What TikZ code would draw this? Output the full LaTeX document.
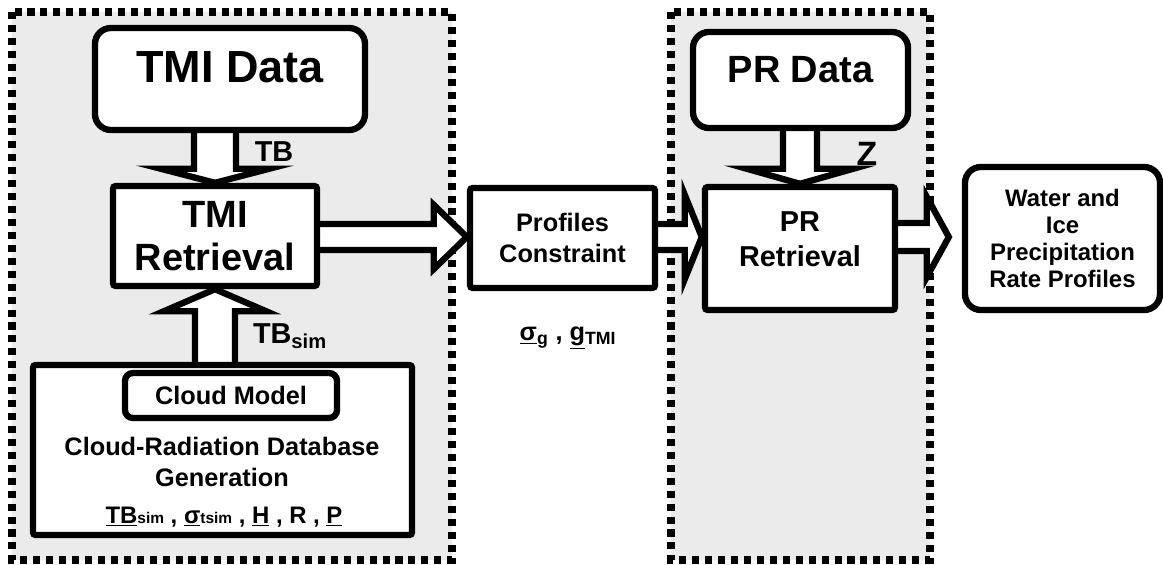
\documentclass[tikz,border=0pt]{standalone}
\usepackage{fontspec}
\setmainfont{Liberation Sans}
\usetikzlibrary{calc}
\pgfdeclarelayer{regions}
\pgfdeclarelayer{arrows}
\pgfsetlayers{regions,arrows,main}

\newcommand{\vblock}[5]{%
  \filldraw[blockarrow] ($(#1)-(#3,0)$) -- ($(#2)-(#3,#5)$) -- ($(#2)-(#4,#5)$) -- (#2)
    -- ($(#2)-(-#4,#5)$) -- ($(#2)-(-#3,#5)$) -- ($(#1)+(#3,0)$);}
\newcommand{\hblock}[5]{%
  \filldraw[blockarrow] ($(#1)-(0,#3)$) -- ($(#2)-(#5,#3)$) -- ($(#2)-(#5,#4)$) -- (#2)
    -- ($(#2)-(#5,-#4)$) -- ($(#2)-(#5,-#3)$) -- ($(#1)+(0,#3)$);}

\begin{document}
\begin{tikzpicture}[x=0.025cm,y=-0.025cm,
    region/.style={fill=black!8, draw=black, line width=5pt, dash pattern=on 5pt off 4.2pt},
    box/.style={draw=black, fill=white, line width=4.5pt, rounded corners=2pt, align=center, inner sep=0pt},
    roundbox/.style={box, rounded corners=0.4cm},
    blockarrow/.style={draw=black, fill=white, line width=4.5pt, line join=miter},
    bigfont/.style={font=\fontsize{32}{36}\selectfont\bfseries},
    midfont/.style={font=\fontsize{18}{22.5}\selectfont\bfseries},
    lblfont/.style={font=\fontsize{20.5}{24}\selectfont\bfseries}]
\useasboundingbox (0,0) rectangle (1163,565);

\begin{pgfonlayer}{regions}
\draw[region] (12,12) rectangle (452,560);
\draw[region] (671,12) rectangle (930,560);
\end{pgfonlayer}

\node[roundbox, bigfont, minimum width=6.75cm, minimum height=2.55cm, text depth=0.6cm] (tmidata) at (230,79) {TMI Data};
\node[box, font=\fontsize{27}{31}\selectfont\bfseries, minimum width=5.1cm, minimum height=2.5cm] (tmiret) at (215,236) {TMI\\Retrieval};
\node[box, midfont, minimum width=4.625cm, minimum height=2.5cm] (prof) at (562.5,238) {Profiles\\Constraint};
\node[roundbox, font=\fontsize{27}{31}\selectfont\bfseries, minimum width=5.375cm, minimum height=2.4cm, text depth=0.55cm] (prdata) at (800.5,80) {PR Data};
\node[box, font=\fontsize{20.5}{25}\selectfont\bfseries, minimum width=4.75cm, minimum height=3.075cm, text depth=0.45cm] (prret) at (800,248.5) {PR\\Retrieval};
\node[roundbox, font=\fontsize{17}{19}\selectfont\bfseries, minimum width=4.875cm, minimum height=3.575cm] (water) at (1062.5,238.5) {Water and\\Ice\\Precipitation\\Rate Profiles};
\node[box, minimum width=9.475cm, minimum height=4.25cm] (crdb) at (222.5,450) {};
\node[box, rounded corners=0.2cm, midfont, minimum width=5.3cm, minimum height=1.125cm] (cloud) at (231,395.5) {Cloud Model};
\node[midfont, align=center, inner sep=0pt] (crdbtxt) at (222,462) {Cloud-Radiation Database\\Generation};
\node[font=\fontsize{17}{20}\selectfont\bfseries, anchor=base, inner sep=0pt] (crdbvars) at (224,523)
  {\underline{TB}{\fontsize{11}{12}\selectfont sim} , \underline{σ}{\fontsize{11}{12}\selectfont tsim} , \underline{H} , R , \underline{P}};

\node[lblfont] (tblab) at (274,152) {TB};
\node[lblfont] (tbsimlab) at (290,336) {TB\textsubscript{sim}};
\node[font=\fontsize{24}{28}\selectfont\bfseries] (zlab) at (867,154) {Z};
\node[font=\fontsize{18}{20}\selectfont\bfseries] (siglab) at (568,338) {\underline{σ}\textsubscript{g} , \underline{g}\textsubscript{TMI}};

\coordinate (ay) at (0,237);
\coordinate (wtip) at ($(water.west |- ay)+(-13,0)$);
\begin{pgfonlayer}{arrows}
\vblock{tmidata.south -| tmiret.north}{tmiret.north}{21}{54}{14}
\vblock{crdb.north -| tmiret.south}{tmiret.south}{20}{51}{-22}
\vblock{prdata.south -| prret.north}{prret.north}{17}{53}{15}
\hblock{tmiret.east |- ay}{prof.west |- ay}{13}{32}{33}
\hblock{prof.east |- ay}{prret.west |- ay}{13}{42}{17}
\hblock{prret.east |- ay}{wtip}{14}{40}{22}
\end{pgfonlayer}
\end{tikzpicture}
\end{document}
